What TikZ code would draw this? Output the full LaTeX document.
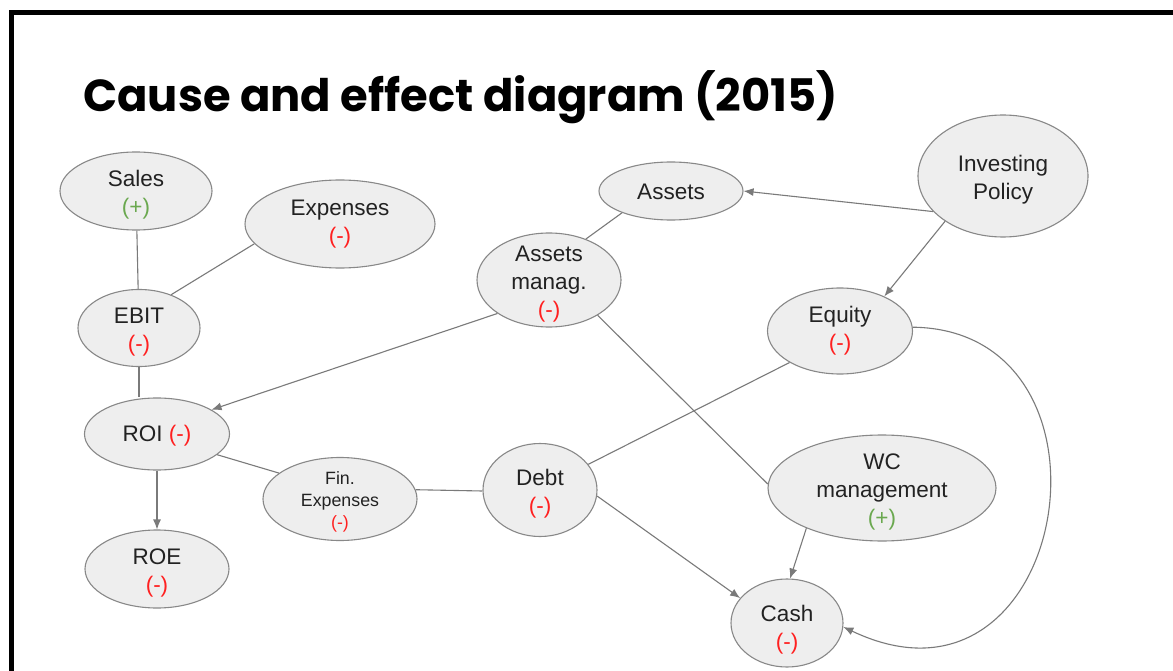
\documentclass[tikz,border=0pt]{standalone}
\usepackage{fontspec}
\setmainfont{Liberation Sans}
\newfontfamily\titlefont{Poppins}
\usetikzlibrary{shapes.geometric,arrows.meta}
\definecolor{nodefill}{HTML}{EEEEEE}
\definecolor{nodeline}{HTML}{888888}
\definecolor{edgecol}{HTML}{7A7A7A}
\definecolor{txt}{HTML}{222222}
\definecolor{neg}{HTML}{FF2020}
\definecolor{pos}{HTML}{6AA84F}
\newcommand{\mneg}{\textcolor{neg}{(-)}}
\newcommand{\mpos}{\textcolor{pos}{(+)}}
\newcommand{\tl}[2][9]{\raisebox{-#1pt}{\begin{tabular}{@{}c@{}}#2\end{tabular}}}
\newcommand{\oneline}[2][8.5]{\raisebox{-#1pt}{#2}}
\tikzset{
  ell/.style 2 args={ellipse, draw=nodeline, fill=nodefill, line width=1.1pt,
    minimum width=#1pt, minimum height=#2pt, inner sep=0pt,
    text height=0pt, text depth=0pt,
    text=txt, font=\fontsize{22.5}{28}\selectfont},
  link/.style={draw=edgecol, line width=1.1pt},
  arr/.style={link, -{Latex[length=10pt,width=8pt]}}
}
\begin{document}
\begin{tikzpicture}[x=1pt,y=-1pt]
\useasboundingbox (0,0) rectangle (1173,671);
\fill[white] (0,0) rectangle (1173,671);
\draw[black, line width=5pt] (11.5,700) -- (11.5,12.5) -- (1200,12.5);
\node[anchor=base west, inner sep=0pt] (title) at (83,112)
  {\resizebox{755pt}{!}{\titlefont\bfseries Cause and effect diagram (2015)}};

\node[ell={152}{78}] (sales) at (136,191) {\tl{Sales\\\mpos}};
\node[ell={190}{88}] (exp) at (340,224) {\tl[5.5]{Expenses\\\mneg}};
\node[ell={122}{77}] (ebit) at (139,328) {\tl{EBIT\\\mneg}};
\node[ell={145}{72}] (roi) at (157,434) {\oneline[7]{ROI \mneg}};
\node[ell={144}{78}] (roe) at (157,569) {\tl{ROE\\\mneg}};
\node[ell={154}{83}, font=\fontsize{17.8}{22}\selectfont] (fin) at (340,499)
  {\tl[7.6]{Fin.\\Expenses\\\mneg}};
\node[ell={114}{93}] (debt) at (540,490) {\tl{Debt\\\mneg}};
\node[ell={144}{58}] (assets) at (671,191) {\oneline{Assets}};
\node[ell={144}{94}] (am) at (549,280) {\tl{Assets\\manag.\\\mneg}};
\node[ell={170}{122}] (inv) at (1003,176) {\tl{Investing\\Policy}};
\node[ell={145}{86}] (eq) at (840,331) {\tl[5.5]{Equity\\\mneg}};
\node[ell={228}{106}] (wc) at (882,488) {\tl{WC\\management\\\mpos}};
\node[ell={112}{88}] (cash) at (787,623) {\tl[12]{Cash\\\mneg}};

\draw[link] (sales) -- (ebit);
\draw[link] (exp.193) -- (ebit.46);
\draw[link] (ebit.south) -- (ebit.south |- roi.north);
\draw[arr] (am.213) -- (roi.24);
\draw[arr] (roi.south) -- (roe.north);
\draw[link] (roi.341) -- (fin.157);
\draw[link] (fin.7) -- (debt.181);
\draw[link] (debt.28) -- (eq.212);
\draw[arr] (debt.354) -- (cash.152);
\draw[link] (assets.204) -- (am.48);
\draw[link] (am.324) -- (wc.178);
\draw[arr] (inv.207) -- (assets.0);
\draw[arr] (inv.218) -- (eq.38);
\draw[arr] (wc.208) -- (cash.86);
\draw[arr] (eq.3) .. controls (1135,330) and (1070,735) .. (cash.356);
\end{tikzpicture}
\end{document}
